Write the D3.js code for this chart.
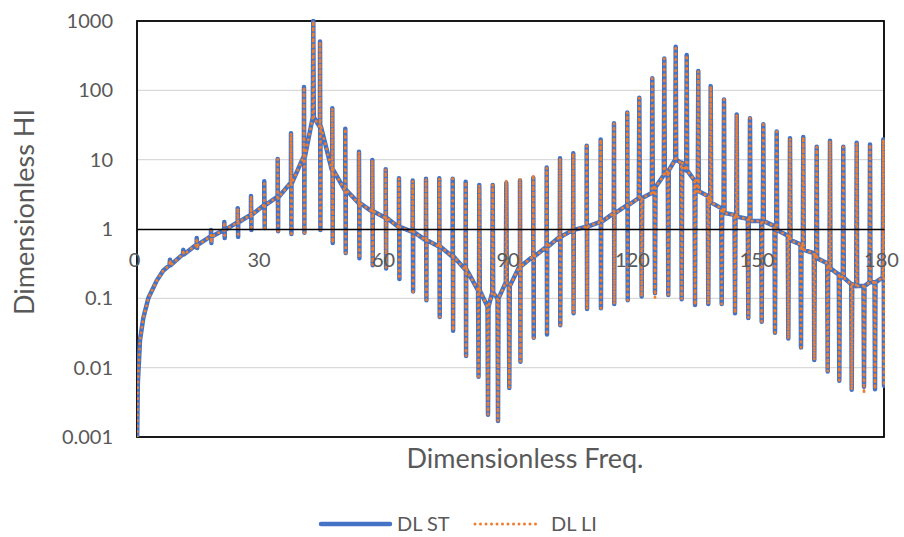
<!DOCTYPE html>
<html>
<head>
<meta charset="utf-8">
<script src="https://cdn.jsdelivr.net/npm/d3@7"></script>
<style>
  body { margin: 0; background: #fff; }
  svg text { font-family: Lato, "Open Sans", sans-serif; fill: #595959; }
</style>
</head>
<body>
<svg id="chart" width="904" height="537"></svg>
<script>
// smooth rise at the low end of the sweep
var startX = [0.03, 0.2, 0.48, 0.72, 1.52, 2.72, 4.75, 6.3];
var startV = [0.001, 0.006, 0.0125, 0.025, 0.052, 0.1, 0.18, 0.25];

// resonance peaks: position, height for each series, level of the curve at its foot
var peakX = [7.95, 11.16, 14.39, 17.83, 21.04, 24.27, 27.47, 30.67, 33.9, 37.11,
  40.24, 42.48, 44.1, 47.06, 50.19, 53.49, 56.7, 59.93, 63.13, 66.43,
  69.64, 72.84, 76.07, 79.2, 82.48, 85.71, 88.99, 92.29, 95.49, 98.72,
  101.93, 105.13, 108.36, 111.73, 114.94, 118.14, 121.04, 124.17, 127.06, 129.81,
  132.46, 135.25, 138.24, 141.45, 144.51, 147.71, 150.92, 154.14, 157.35, 160.55,
  163.78, 166.99, 170.19, 173.42, 176.63, 179.83];
var peakST = [0.36, 0.5, 0.74, 0.97, 1.26, 2.0, 3.0, 4.9, 10.2, 24,
  112, 1000, 505, 55, 28, 13, 9.9, 7.3, 5.4, 5.0,
  5.3, 5.4, 5.3, 4.8, 4.3, 4.3, 4.6, 5.0, 5.5, 7.7,
  10.5, 12.4, 15.9, 19.6, 33.6, 48, 78, 149, 288, 426,
  323, 190, 115, 74, 45, 39.5, 32.4, 25.4, 20.3, 21.3,
  15.4, 18.8, 15.4, 17.5, 16.6, 19.6];
var peakLI = [0.36, 0.5, 0.74, 0.97, 1.26, 2.0, 3.0, 4.9, 10.2, 24,
  112, 1000, 505, 55, 28, 13, 9.9, 7.3, 5.4, 5.0,
  5.3, 5.4, 5.3, 4.8, 4.3, 4.4, 5.1, 5.4, 6.1, 7.7,
  10.5, 12.4, 15.9, 19.6, 33.6, 48, 78, 149, 288, 440,
  323, 190, 115, 74, 45, 39.5, 32.4, 25.4, 20.3, 21.3,
  15.4, 18.8, 15.4, 17.5, 16.6, 19.6];
var peakFoot = [0.3, 0.43, 0.59, 0.78, 0.97, 1.25, 1.6, 2.2, 2.9, 4.6,
  11, 41, 30, 7.1, 3.65, 2.37, 1.8, 1.45, 1.07, 0.91,
  0.69, 0.56, 0.4, 0.26, 0.13, 0.12, 0.17, 0.29, 0.4, 0.55,
  0.77, 0.97, 1.08, 1.27, 1.68, 2.2, 2.8, 3.3, 6, 10,
  7, 3.5, 2.4, 1.7, 1.5, 1.3, 1.3, 0.97, 0.69, 0.5,
  0.38, 0.27, 0.2, 0.15, 0.17, 0.2];

// anti-resonance dips
var dipX = [14.5, 17.93, 21.14, 24.37, 27.57, 30.77, 34.0, 37.21, 40.34, 44.2,
  47.16, 50.29, 53.59, 56.8, 60.03, 63.23, 66.53, 69.74, 72.94, 76.17,
  79.3, 82.3, 84.58, 86.99, 89.71, 92.4, 95.6, 98.8, 102.0, 105.2,
  108.45, 111.8, 115.0, 118.25, 121.61, 124.82, 128.02, 131.25, 134.46, 137.66,
  140.89, 144.1, 147.3, 150.53, 153.73, 156.94, 160.0, 163.2, 166.43, 169.23,
  172.22, 175.18, 177.83, 180.0];
var dipST = [0.53, 0.63, 0.74, 0.77, 0.97, 1.03, 0.93, 0.85, 0.88, 0.97,
  0.63, 0.45, 0.38, 0.3, 0.27, 0.19, 0.125, 0.094, 0.054, 0.034,
  0.0147, 0.0074, 0.0021, 0.0017, 0.0051, 0.0122, 0.027, 0.03, 0.041, 0.061,
  0.07, 0.072, 0.083, 0.094, 0.106, 0.118, 0.112, 0.097, 0.08, 0.083,
  0.083, 0.061, 0.052, 0.046, 0.032, 0.0263, 0.0196, 0.0129, 0.0088, 0.0065,
  0.0048, 0.0053, 0.0049, 0.0055];
var dipLI = [0.53, 0.63, 0.74, 0.77, 0.97, 1.03, 0.93, 0.85, 0.88, 0.97,
  0.63, 0.45, 0.38, 0.3, 0.27, 0.19, 0.125, 0.094, 0.054, 0.034,
  0.0147, 0.0074, 0.0021, 0.0017, 0.0051, 0.0122, 0.027, 0.03, 0.041, 0.061,
  0.07, 0.072, 0.083, 0.094, 0.106, 0.102, 0.112, 0.097, 0.08, 0.083,
  0.083, 0.061, 0.052, 0.046, 0.032, 0.0263, 0.0196, 0.0129, 0.0088, 0.0065,
  0.0048, 0.0042, 0.0049, 0.0055];
var dipFoot = [0.59, 0.78, 0.97, 1.25, 1.6, 2.2, 2.9, 4.6, 11, 30,
  7.1, 3.65, 2.37, 1.8, 1.45, 1.07, 0.91, 0.69, 0.56, 0.4,
  0.26, 0.13, 0.076, 0.1, 0.15, 0.29, 0.4, 0.55, 0.77, 0.97,
  1.08, 1.27, 1.68, 2.2, 2.8, 4, 7, 9, 5, 3,
  2, 1.6, 1.4, 1.3, 1.1, 0.8, 0.6, 0.45, 0.32, 0.22,
  0.16, 0.15, 0.17, 0.2];

var xTicks = [0, 30, 60, 90, 120, 150, 180];
var yTicks = [0.001, 0.01, 0.1, 1, 10, 100, 1000];
var seriesNames = ["DL ST", "DL LI"];
var seriesColors = ["#4472C4", "#ED7D31"];

var margin = { left: 137, right: 20, top: 21, bottom: 100 };
var width = 904, height = 537;

var svg = d3.select("#chart");

var x = d3.scaleLinear().domain([0, 180]).range([margin.left, width - margin.right]);
var y = d3.scaleLog().domain([0.001, 1000]).range([height - margin.bottom, margin.top]);

// half width of a spike, in frequency units
var spikeHalf = 0.12;

function buildSeries(peakV, dipV) {
  var pts = startX.map(function(v, i) { return [v, startV[i]]; });
  peakX.forEach(function(px, i) {
    pts.push([px - spikeHalf, peakFoot[i]], [px, peakV[i]], [px + spikeHalf, peakFoot[i]]);
  });
  dipX.forEach(function(dx, i) {
    pts.push([dx - spikeHalf, dipFoot[i]], [dx, dipV[i]], [dx + spikeHalf, dipFoot[i]]);
  });
  return pts.sort(function(a, b) { return a[0] - b[0]; });
}

var seriesData = [buildSeries(peakST, dipST), buildSeries(peakLI, dipLI)];

// gridlines
svg.append("g")
  .selectAll("line")
  .data(yTicks.filter(function(t) { return t !== 1 && t !== 0.001 && t !== 1000; }))
  .enter()
  .append("line")
  .attr("x1", x(0))
  .attr("x2", x(180))
  .attr("y1", function(d) { return y(d); })
  .attr("y2", function(d) { return y(d); })
  .style("stroke", "#d9d9d9")
  .style("stroke-width", 1.2);

// plot frame
svg.append("rect")
  .attr("x", x(0))
  .attr("y", y(1000))
  .attr("width", x(180) - x(0))
  .attr("height", y(0.001) - y(1000))
  .style("fill", "none")
  .style("stroke", "#000")
  .style("stroke-width", 1.8);

svg.append("clipPath")
  .attr("id", "plot-clip")
  .append("rect")
  .attr("x", x(0))
  .attr("y", y(1000) - 2)
  .attr("width", x(180) - x(0) + 1)
  .attr("height", y(0.001) - y(1000) + 2);

var line = d3.line()
  .x(function(d) { return x(d[0]); })
  .y(function(d) { return y(d[1]); });

var plot = svg.append("g").attr("clip-path", "url(#plot-clip)");

plot.append("path")
  .datum(seriesData[0])
  .attr("d", line)
  .style("fill", "none")
  .style("stroke", seriesColors[0])
  .style("stroke-width", 4.5)
  .style("stroke-linejoin", "round")
  .style("stroke-linecap", "round");

plot.append("path")
  .datum(seriesData[1])
  .attr("d", line)
  .style("fill", "none")
  .style("stroke", seriesColors[1])
  .style("stroke-width", 3)
  .style("stroke-dasharray", "0 5.5")
  .style("stroke-linejoin", "round")
  .style("stroke-linecap", "round");

// x axis sits on the y = 1 line
var xAxis = svg.append("g")
  .attr("transform", "translate(0," + y(1) + ")")
  .call(d3.axisBottom(x).tickValues(xTicks).tickSize(0).tickSizeOuter(0));
xAxis.select(".domain").style("stroke", "#000").style("stroke-width", 1.6);
xAxis.selectAll("text")
  .attr("x", -3)
  .attr("y", 31)
  .attr("dy", "0.35em")
  .style("font-size", "20px")
  .style("fill", "#595959");

var yAxis = svg.append("g")
  .attr("transform", "translate(" + x(0) + ",0)")
  .call(d3.axisLeft(y).tickValues(yTicks).tickFormat(d3.format("~g")).tickSize(0));
yAxis.select(".domain").remove();
yAxis.selectAll("text")
  .attr("x", -24)
  .style("font-size", "20px")
  .style("fill", "#595959");

svg.append("text")
  .attr("x", 525)
  .attr("y", 459)
  .attr("dy", "0.35em")
  .attr("text-anchor", "middle")
  .style("font-size", "27px")
  .text("Dimensionless Freq.");

svg.append("text")
  .attr("transform", "translate(25,212) rotate(-90)")
  .attr("dy", "0.35em")
  .attr("text-anchor", "middle")
  .style("font-size", "27px")
  .text("Dimensionless HI");

// legend
var legend = svg.append("g").attr("transform", "translate(0,524)");
var legendX = [321, 475];
seriesNames.forEach(function(name, i) {
  var item = legend.append("g").attr("transform", "translate(" + legendX[i] + ",0)");
  item.append("line")
    .attr("x1", 0).attr("x2", i === 0 ? 69 : 66)
    .style("stroke", seriesColors[i])
    .style("stroke-width", i === 0 ? 4.5 : 3)
    .style("stroke-linecap", "round")
    .style("stroke-dasharray", i === 0 ? null : "0 5.5");
  item.append("text")
    .attr("x", 76)
    .attr("dy", "0.35em")
    .style("font-size", "20px")
    .text(name);
});
</script>
</body>
</html>
